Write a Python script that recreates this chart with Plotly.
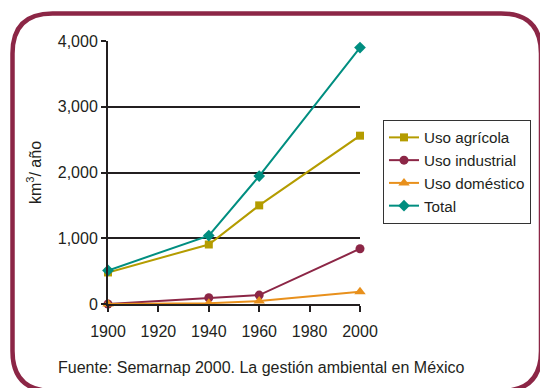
import plotly.graph_objects as go

# Water use in Mexico, km3 per year
years = [1900, 1940, 1960, 2000]
uso_agricola = [480, 905, 1500, 2560]
uso_industrial = [0, 95, 135, 840]
uso_domestico = [0, 12, 45, 185]
total = [510, 1040, 1945, 3900]

y_ticks = [0, 1000, 2000, 3000, 4000]
x_ticks = [1900, 1920, 1940, 1960, 1980, 2000]

W, H = 540, 388
L, R, T, B = 108, 180, 41, 84
FONT = "Liberation Sans, Arial, sans-serif"
FS = 16
TXT = "#231f20"
FRAME = "#8c2646"

series = [
    ("Uso agrícola", uso_agricola, "#b49c00", "square", 8),
    ("Uso industrial", uso_industrial, "#8c2646", "circle", 9),
    ("Uso doméstico", uso_domestico, "#e8901c", "triangle-up", 10),
    ("Total", total, "#008e80", "diamond", 9),
]

fig = go.Figure()
for name, vals, color, sym, size in series:
    fig.add_trace(go.Scatter(
        x=years, y=vals, name=name, mode="lines+markers",
        line=dict(color=color, width=2),
        marker=dict(symbol=sym, size=size, color=color),
        cliponaxis=False,
    ))

pw, ph = W - L - R, H - T - B


def px(x):
    return (x - L) / pw


def py(y):
    return (H - B - y) / ph


# rounded frame around the whole figure
x0, x1, y0, y1, r = 12.5, 541, 13.5, 391, 40
path = (
    f"M {px(x0 + r)} {py(y0)} L {px(x1 - r)} {py(y0)} "
    f"Q {px(x1)} {py(y0)} {px(x1)} {py(y0 + r)} "
    f"L {px(x1)} {py(y1 - r)} "
    f"Q {px(x1)} {py(y1)} {px(x1 - r)} {py(y1)} "
    f"L {px(x0 + r)} {py(y1)} "
    f"Q {px(x0)} {py(y1)} {px(x0)} {py(y1 - r)} "
    f"L {px(x0)} {py(y0 + r)} "
    f"Q {px(x0)} {py(y0)} {px(x0 + r)} {py(y0)} Z"
)
fig.add_shape(type="path", path=path, xref="paper", yref="paper",
              line=dict(color=FRAME, width=4.5), layer="above")

fig.add_annotation(
    text="Fuente: Semarnap 2000. La gestión ambiental en México",
    xref="paper", yref="paper", x=px(261), y=py(367),
    xanchor="center", yanchor="middle", showarrow=False,
    font=dict(family=FONT, size=FS, color=TXT),
)

fig.update_layout(
    width=W, height=H, autosize=False,
    margin=dict(l=L, r=R, t=T, b=B, pad=0, autoexpand=False),
    paper_bgcolor="white", plot_bgcolor="white",
    font=dict(family=FONT, size=FS, color=TXT),
    showlegend=True,
    legend=dict(
        x=px(383), y=py(120), xanchor="left", yanchor="top",
        bordercolor="#333333", borderwidth=1, bgcolor="white",
        font=dict(family=FONT, size=15.2, color=TXT),
        tracegroupgap=0, itemwidth=30,
    ),
    xaxis=dict(
        range=[1900, 2000], tickvals=x_ticks, ticktext=[str(v) for v in x_ticks],
        showgrid=False, zeroline=False,
        showline=True, linecolor="#231f20", linewidth=2,
        ticks="outside", ticklen=6, tickwidth=1.5, tickcolor="#231f20",
        ticklabelstandoff=6,
    ),
    yaxis=dict(
        range=[0, 4000], tickvals=y_ticks, tickformat=",",
        showgrid=True, gridcolor="#231f20", gridwidth=1.5, zeroline=False,
        showline=True, linecolor="#231f20", linewidth=2,
        ticks="outside", ticklen=5, tickwidth=1.5, tickcolor="#231f20",
        title=dict(text="km<sup>3</sup>/ año", standoff=12,
                   font=dict(family=FONT, size=FS, color=TXT)),
    ),
)

fig.write_html("out.html")
